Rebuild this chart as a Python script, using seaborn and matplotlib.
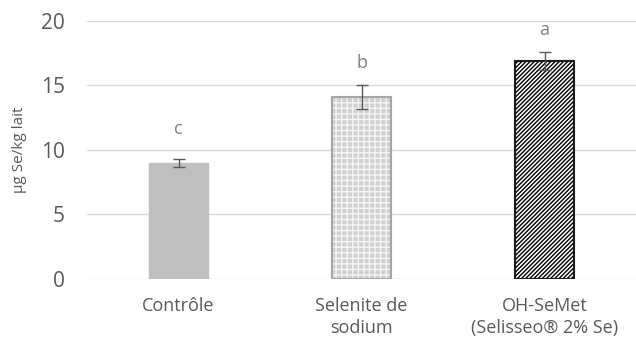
import matplotlib
matplotlib.use('Agg')
import matplotlib.pyplot as plt
import seaborn as sns
import pandas as pd

categories = ['Contrôle', 'Selenite de\nsodium', 'OH-SeMet\n(Selisseo® 2% Se)']
values = [9.0, 14.1, 16.9]
errors = [0.3, 0.9, 0.7]
letters = ['c', 'b', 'a']
letter_y = [11.6, 16.7, 19.3]

sns.set_theme(style='white')
plt.rcParams['font.family'] = ['Open Sans', 'DejaVu Sans']

df = pd.DataFrame({'group': categories, 'value': values})

fig = plt.figure(figsize=(6.36, 3.54), dpi=100)
ax = fig.add_axes([0.137, 0.212, 0.863, 0.729])

sns.barplot(data=df, x='group', y='value', ax=ax, width=0.32, errorbar=None,
            color='#bfbfbf', zorder=3)

# style each bar like the original
p0, p1, p2 = ax.patches[:3]
p0.set_facecolor('#bfbfbf')
p0.set_edgecolor('#bfbfbf')
p1.set_facecolor('#d0d0d0')
p1.set_edgecolor('#f4f4f4')
p1.set_hatch('+++')
p1.set_linewidth(0)
p2.set_facecolor('white')
p2.set_edgecolor('black')
p2.set_hatch('////////')
p2.set_linewidth(0)
# outlines drawn on top
for p, ec in [(p1, '#a6a6a6'), (p2, '#1a1a1a')]:
    ax.add_patch(plt.Rectangle((p.get_x(), 0), p.get_width(), p.get_height(),
                               fill=False, edgecolor=ec, linewidth=1.5, zorder=4))

ax.errorbar(range(len(values)), values, yerr=errors, fmt='none',
            ecolor='#595959', elinewidth=1, capsize=4, capthick=1, zorder=5)

for i, (t, y) in enumerate(zip(letters, letter_y)):
    ax.text(i, y, t, ha='center', va='center', fontsize=13, color='#7f7f7f')

ax.set_xlim(-0.5, 2.5)
ax.set_ylim(0, 20)
ax.set_yticks([0, 5, 10, 15, 20])
ax.yaxis.grid(True, color='#d9d9d9', linewidth=1, zorder=0)
ax.set_axisbelow(True)
for s in ax.spines.values():
    s.set_visible(False)
ax.tick_params(axis='y', length=0, pad=16, labelsize=15, labelcolor='#595959')
ax.tick_params(axis='x', length=0, pad=13, labelsize=13, labelcolor='#595959')
for lbl in ax.get_xticklabels():
    lbl.set_linespacing(1.25)
ax.set_xlabel('')
ax.set_ylabel('µg Se/kg lait', fontsize=11, color='#595959', labelpad=2)
ax.yaxis.set_label_coords(-0.11, 0.5)

fig.savefig('out.png', dpi=100)
